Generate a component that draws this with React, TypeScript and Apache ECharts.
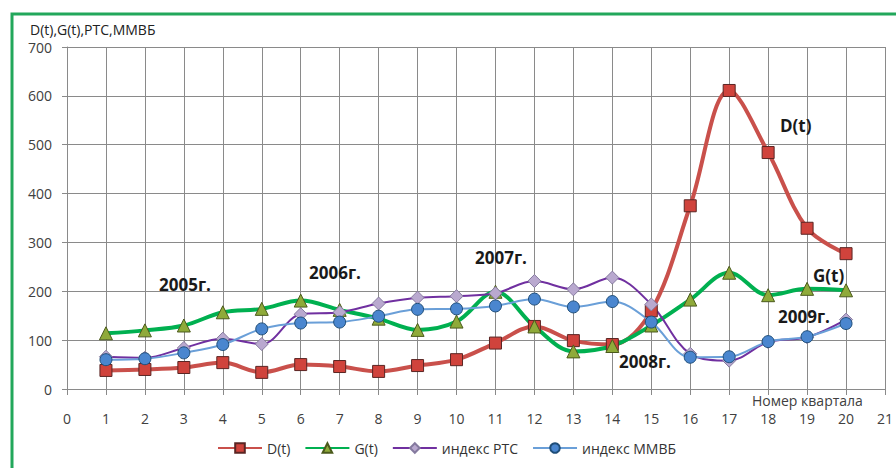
import React, { useEffect, useRef } from "react";
import * as echarts from "echarts";

const quarters = [1, 2, 3, 4, 5, 6, 7, 8, 9, 10, 11, 12, 13, 14, 15, 16, 17, 18, 19, 20];
const dValues = [38, 40, 44, 54, 34, 50, 46, 36, 48, 60, 94, 128, 99, 91, 160, 375, 611, 484, 329, 277];
const gValues = [114, 120, 130, 157, 164, 181, 162, 144, 121, 138, 199, 128, 77, 88, 130, 183, 238, 192, 205, 202];
const rtsValues = [66, 64, 84, 103, 92, 153, 157, 175, 187, 190, 196, 221, 204, 228, 173, 72, 58, 96, 106, 142];
const mmvbValues = [60, 62, 74, 91, 123, 135, 137, 149, 163, 164, 170, 184, 168, 179, 137, 65, 66, 97, 107, 134];
const seriesNames = ["D(t)", "G(t)", "индекс РТС", "индекс ММВБ"];
const yAxisTitle = "D(t),G(t),РТС,ММВБ";
const xAxisTitle = "Номер квартала";
const annotations = [
  { text: "2005г.", x: 159, y: 284 },
  { text: "2006г.", x: 309, y: 272 },
  { text: "2007г.", x: 475, y: 257 },
  { text: "2008г.", x: 619, y: 361 },
  { text: "2009г.", x: 778, y: 316 },
  { text: "D(t)", x: 780, y: 125 },
  { text: "G(t)", x: 813, y: 275 },
];

const FONT = "'Open Sans', 'DejaVu Sans', sans-serif";

function pairs(vals: number[]) {
  return quarters.map((q, i) => [q, vals[i]]);
}

export default function App() {
  const ref = useRef<HTMLDivElement>(null);
  useEffect(() => {
    if (!ref.current) return;
    const chart = echarts.init(ref.current, null, { renderer: "svg" });
    const gridColor = "#8a8a8a";
    const mk = (
      name: string,
      vals: number[],
      lineColor: string,
      lineWidth: number,
      symbol: string,
      symbolSize: number,
      fill: string,
      border: string
    ) => ({
      type: "line",
      name,
      data: pairs(vals),
      smooth: 0.35,
      symbol,
      symbolSize,
      showAllSymbol: true,
      lineStyle: { color: lineColor, width: lineWidth },
      itemStyle: { color: fill, borderColor: border, borderWidth: 1 },
      emphasis: { disabled: true },
    });
    chart.setOption({
      animation: false,
      backgroundColor: "#ffffff",
      grid: { left: 67, right: 8, top: 47, bottom: 79, containLabel: false },
      legend: {
        data: seriesNames,
        left: 212,
        top: 436,
        itemWidth: 44,
        itemHeight: 12,
        itemGap: 14,
        textStyle: { fontFamily: FONT, fontSize: 14, color: "#333333" },
      },
      xAxis: {
        type: "value",
        min: 0,
        max: 21,
        interval: 1,
        axisLine: { show: true, lineStyle: { color: gridColor, width: 1 } },
        axisTick: { show: true, length: 6, lineStyle: { color: gridColor } },
        axisLabel: { margin: 22, fontFamily: FONT, fontSize: 14, color: "#404040" },
        splitLine: { show: true, lineStyle: { color: gridColor, width: 1 } },
      },
      yAxis: {
        type: "value",
        min: 0,
        max: 700,
        interval: 100,
        axisLine: { show: true, lineStyle: { color: gridColor, width: 1 } },
        axisTick: { show: true, length: 5, lineStyle: { color: gridColor } },
        axisLabel: { margin: 15, fontFamily: FONT, fontSize: 14, color: "#404040" },
        splitLine: { show: true, lineStyle: { color: gridColor, width: 1 } },
      },
      series: [
        mk(seriesNames[0], dValues, "#C9504B", 4, "rect", 12, "#D0433C", "#5A2523"),
        mk(seriesNames[1], gValues, "#00B050", 4, "triangle", 13, "#8FAA3A", "#4B5A1C"),
        mk(seriesNames[2], rtsValues, "#7030A0", 2, "diamond", 13, "#B9A9CF", "#857A9F"),
        mk(seriesNames[3], mmvbValues, "#6A9FD8", 2, "circle", 12, "#4A86CF", "#1F4E79"),
      ],
      graphic: [
        {
          type: "rect",
          shape: { x: 12, y: 14, width: 900, height: 480 },
          style: { fill: "none", stroke: "#22A75B", lineWidth: 3 },
          silent: true,
        },
        {
          type: "text",
          x: 30,
          y: 29,
          style: {
            text: yAxisTitle,
            font: `14px ${FONT}`,
            fill: "#222",
            textAlign: "left",
            textVerticalAlign: "middle",
            align: "left",
            verticalAlign: "middle",
          },
        },
        {
          type: "text",
          x: 752,
          y: 400,
          style: {
            text: xAxisTitle,
            font: `14px ${FONT}`,
            fill: "#404040",
            textAlign: "left",
            textVerticalAlign: "middle",
            align: "left",
            verticalAlign: "middle",
          },
        },
        ...annotations.map((a) => ({
          type: "text",
          x: a.x,
          y: a.y,
          z: 100,
          style: {
            text: a.text,
            font: `bold 17px ${FONT}`,
            fill: "#1a1a1a",
            textAlign: "left",
            textVerticalAlign: "middle",
            align: "left",
            verticalAlign: "middle",
          },
        })),
      ],
    });
    return () => chart.dispose();
  }, []);
  return (
    <div
      ref={ref}
      style={{ position: "fixed", left: 0, top: 0, width: 896, height: 468 }}
    />
  );
}
